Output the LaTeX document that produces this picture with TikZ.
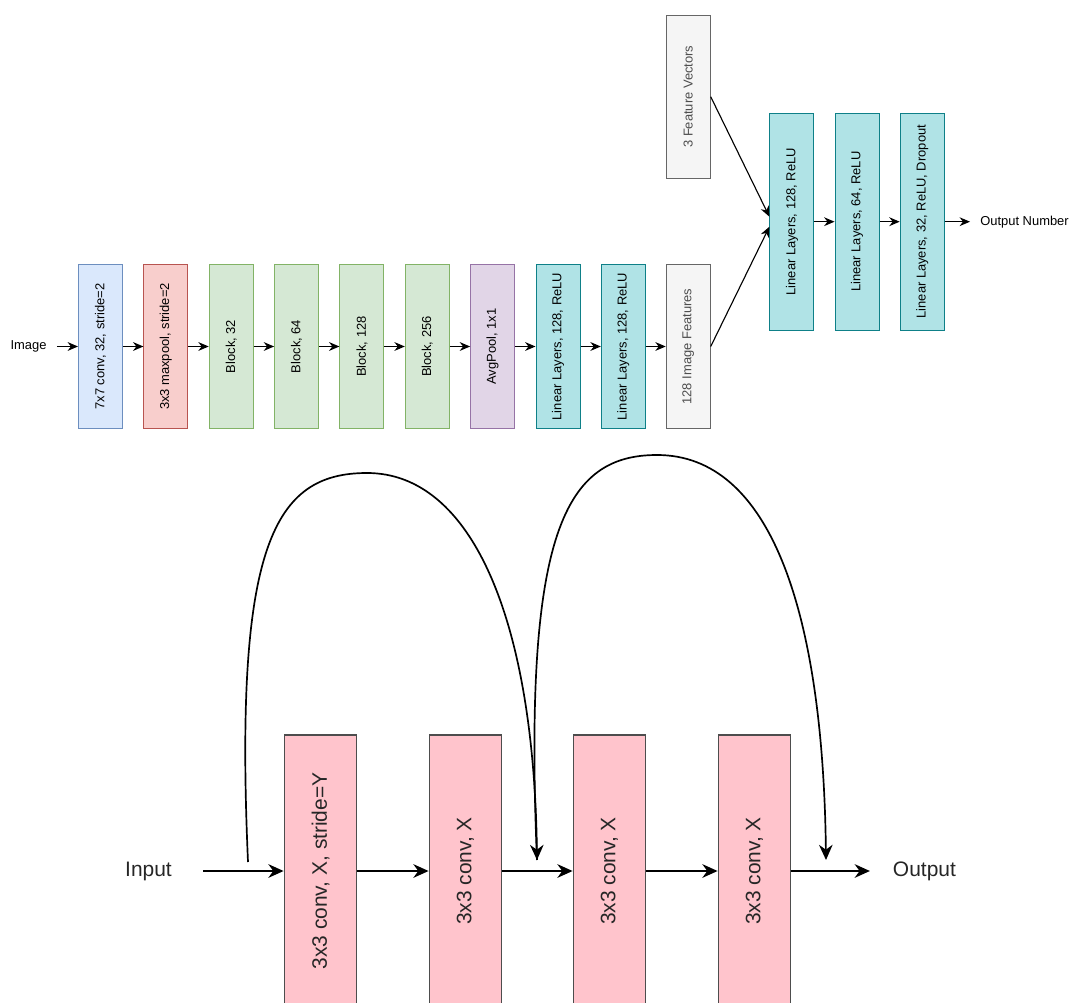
\documentclass[tikz,border=0pt]{standalone}
\usepackage{fontspec}
\setmainfont{Liberation Sans}
\usepackage{graphicx}
\usepackage{tikz}
\usetikzlibrary{arrows.meta}
\definecolor{convFill}{HTML}{DAE8FC}
\definecolor{convLine}{HTML}{6C8EBF}
\definecolor{poolFill}{HTML}{F8CECC}
\definecolor{poolLine}{HTML}{B85450}
\definecolor{blockFill}{HTML}{D5E8D4}
\definecolor{blockLine}{HTML}{82B366}
\definecolor{avgFill}{HTML}{E1D5E7}
\definecolor{avgLine}{HTML}{9673A6}
\definecolor{linFill}{HTML}{B0E3E6}
\definecolor{linLine}{HTML}{0E8088}
\definecolor{featFill}{HTML}{F5F5F5}
\definecolor{featLine}{HTML}{666666}
\definecolor{featText}{HTML}{4D4D4D}
\definecolor{resFill}{HTML}{FFC4CC}
\definecolor{resLine}{HTML}{4D4D4D}
\definecolor{resText}{HTML}{262626}
\tikzset{
  txt/.style={inner sep=0pt, font=\fontsize{9.2}{11}\selectfont},
  bigtxt/.style={inner sep=0pt, text=resText, font=\fontsize{14.9}{18}\selectfont},
  layer/.style={draw, line width=0.7pt, minimum width=1.1cm, minimum height=4.075cm, inner sep=0pt, font=\fontsize{9.2}{11}\selectfont},
  conv/.style={layer, fill=convFill, draw=convLine},
  pool/.style={layer, fill=poolFill, draw=poolLine},
  block/.style={layer, fill=blockFill, draw=blockLine},
  avg/.style={layer, fill=avgFill, draw=avgLine},
  lin/.style={layer, fill=linFill, draw=linLine},
  feat/.style={layer, fill=featFill, draw=featLine, text=featText},
  head/.style={lin, minimum height=5.42cm},
  res/.style={draw=resLine, fill=resFill, line width=1pt, minimum width=1.81cm, minimum height=6.8cm, inner sep=0pt, text=resText, font=\fontsize{14.9}{18}\selectfont},
  arr/.style={-{Stealth[length=2.6mm,width=2.2mm]}, line width=0.8pt},
  bigarr/.style={-{Stealth[length=3.8mm,width=3.4mm]}, line width=1.7pt},
  skip/.style={-{Stealth[length=3.8mm,width=3.4mm]}, line width=1.2pt},
}
\begin{document}
\begin{tikzpicture}[x=0.025cm, y=-0.025cm]      % network and residual block
    \path[use as bounding box] (0,0) rectangle (1070,1003);
    \clip (0,0) rectangle (1070,1003);

    % image branch
    \node[txt] at (28.5,346.5) (img) {Image};
    \node[conv] at (100.5,346.5) (c7) {\rotatebox{90}{7x7 conv, 32, stride=2}};
    \node[pool] at (165.9,346.5) (mp) {\rotatebox{90}{3x3 maxpool, stride=2}};
    \node[block] at (231.2,346.5) (b32) {\rotatebox{90}{Block, 32}};
    \node[block] at (296.6,346.5) (b64) {\rotatebox{90}{Block, 64}};
    \node[block] at (361.9,346.5) (b128) {\rotatebox{90}{Block, 128}};
    \node[block] at (427.3,346.5) (b256) {\rotatebox{90}{Block, 256}};
    \node[avg] at (492.6,346.5) (ap) {\rotatebox{90}{AvgPool, 1x1}};
    \node[lin] at (558.0,346.5) (l1) {\rotatebox{90}{Linear Layers, 128, ReLU}};
    \node[lin] at (623.3,346.5) (l2) {\rotatebox{90}{Linear Layers, 128, ReLU}};
    \node[feat] at (688.2,346.5) (imf) {\rotatebox{90}{128 Image Features}};

    \draw[arr, shorten <=0.25cm] (img) -- (c7);
    \draw[arr] (c7) -- (mp);
    \draw[arr] (mp) -- (b32);
    \draw[arr] (b32) -- (b64);
    \draw[arr] (b64) -- (b128);
    \draw[arr] (b128) -- (b256);
    \draw[arr] (b256) -- (ap);
    \draw[arr] (ap) -- (l1);
    \draw[arr] (l1) -- (l2);
    \draw[arr] (l2) -- (imf);

    % head
    \node[feat] at (688.2,96.7) (fv) {\rotatebox{90}{3 Feature Vectors}};
    \node[head] at (791.9,221.7) (h1) {\rotatebox{90}{Linear Layers, 128, ReLU}};
    \node[head] at (857.0,221.7) (h2) {\rotatebox{90}{Linear Layers, 64, ReLU}};
    \node[head] at (922.2,221.7) (h3) {\rotatebox{90}{Linear Layers, 32, ReLU, Dropout}};
    \node[txt, anchor=west] at (980,221.7) (out) {Output Number};

    \draw[arr] (fv.east) -- ([yshift=0.125cm]h1.west);
    \draw[arr] (imf.east) -- ([yshift=-0.125cm]h1.west);
    \draw[arr] (h1) -- (h2);
    \draw[arr] (h2) -- (h3);
    \draw[arr, shorten >=0.25cm] (h3.east) -- (out.west);

    % residual block
    \node[bigtxt] at (148.5,871) (in) {Input};
    \node[res] at (320.5,871) (r1) {\rotatebox{90}{3x3 conv, X, stride=Y}};
    \node[res] at (465.5,871) (r2) {\rotatebox{90}{3x3 conv, X}};
    \node[res] at (609.5,871) (r3) {\rotatebox{90}{3x3 conv, X}};
    \node[res] at (754.5,871) (r4) {\rotatebox{90}{3x3 conv, X}};
    \node[bigtxt, anchor=west] at (892.7,871) (outp) {Output};

    \draw[bigarr, shorten <=0.775cm] (in) -- (r1);
    \draw[bigarr] (r1) -- (r2);
    \draw[bigarr] (r2) -- (r3);
    \draw[bigarr] (r3) -- (r4);
    \draw[bigarr, shorten >=0.57cm] (r4.east) -- (outp.west);

    \coordinate (s1) at (248,862);
    \coordinate (s2) at (537,860);
    \coordinate (s3) at (826,860);
    \coordinate (top1) at (367,473);
    \coordinate (top2) at (657,455);

    \draw[skip] (s1) .. controls (234,545) and (274,473) .. (top1)
                     .. controls (472,473) and (534,620) .. (s2);
    \draw[skip] (s2) .. controls (523,530) and (566,455) .. (top2)
                     .. controls (770,455) and (823,610) .. (s3);
\end{tikzpicture}
\end{document}
